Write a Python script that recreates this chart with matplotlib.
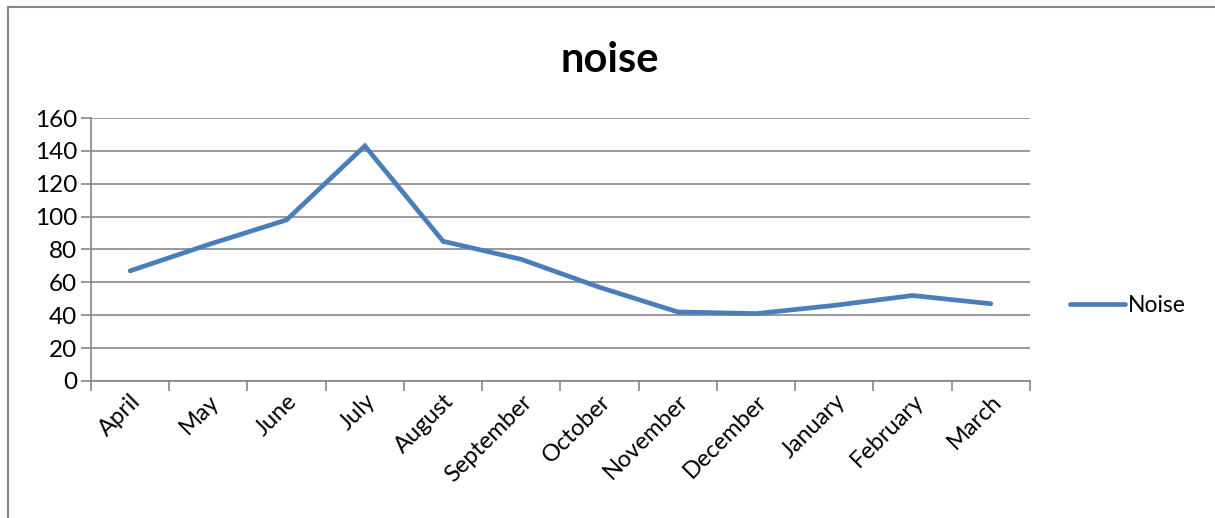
import matplotlib.pyplot as plt
from matplotlib.lines import Line2D

plt.rcParams['font.family'] = ['Lato', 'DejaVu Sans']

# monthly noise readings
months = ['April', 'May', 'June', 'July', 'August', 'September', 'October',
          'November', 'December', 'January', 'February', 'March']
noise = [67, 83, 98, 143, 85, 74, 57, 42, 41, 46, 52, 47]
y_ticks = [0, 20, 40, 60, 80, 100, 120, 140, 160]

fig = plt.figure(figsize=(12.15, 5.18), dpi=100)
ax = fig.add_axes([0.0749, 0.2645, 0.7728, 0.5077])

x = range(len(months))
line, = ax.plot(x, noise, color='#4a7ebb', linewidth=3.4, solid_joinstyle='miter',
                solid_capstyle='round', label='Noise')

ax.set_xlim(-0.5, len(months) - 0.5)
ax.set_ylim(0, 160)
ax.set_yticks(y_ticks)
ax.set_yticklabels([str(v) for v in y_ticks], fontsize=17.5)
# boundary ticks between months, labels centred on each month
ax.set_xticks([i - 0.5 for i in range(len(months) + 1)], minor=False)
ax.set_xticklabels([])
ax.set_xticks(list(x), minor=True)
ax.set_xticklabels(months, minor=True, rotation=45, ha='right', va='top',
                   rotation_mode='anchor', fontsize=17)
ax.tick_params(axis='x', which='major', length=7, color='#868686', width=1.2, direction='out')
ax.tick_params(axis='x', which='minor', length=0, pad=7)
ax.tick_params(axis='y', length=7, color='#868686', width=1.2, direction='out', pad=3)

ax.grid(axis='y', color='#868686', linewidth=1.2)
ax.set_axisbelow(True)
for side in ['top', 'right']:
    ax.spines[side].set_visible(False)
for side in ['left', 'bottom']:
    ax.spines[side].set_color('#868686')
    ax.spines[side].set_linewidth(1.2)

fig.text(0.502, 0.885, 'noise', ha='center', va='center', fontsize=30, fontweight='bold')

fig.legend(handles=[line], loc='center left', bbox_to_anchor=(0.873, 0.41),
           frameon=False, fontsize=16.5, handlelength=2.4, handletextpad=0.12,
           borderaxespad=0)

# outer chart border
fig.add_artist(Line2D([0.0066, 1.0], [0.986, 0.986], color='#868686', linewidth=1.5,
                      transform=fig.transFigure))
fig.add_artist(Line2D([0.0066, 0.0066], [0.0, 0.986], color='#868686', linewidth=1.5,
                      transform=fig.transFigure))

fig.savefig('out.png', dpi=100)
